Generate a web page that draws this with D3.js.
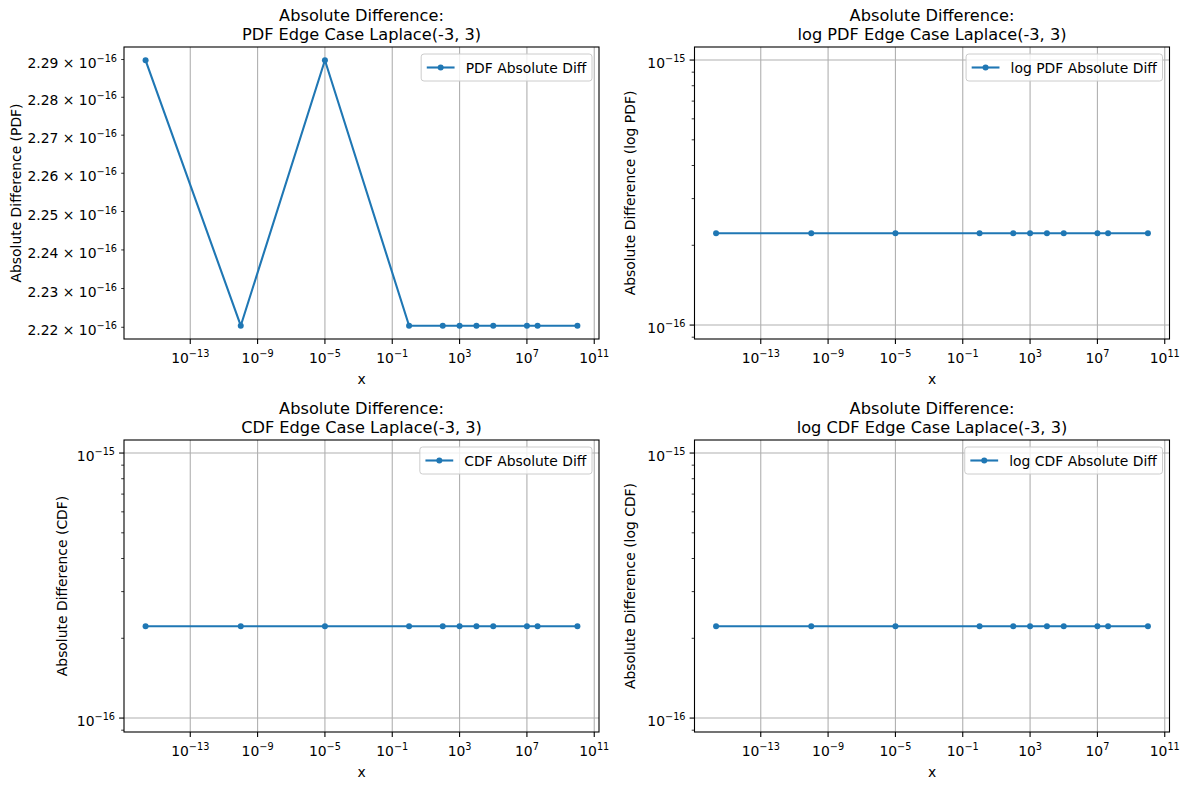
<!DOCTYPE html>
<html>
<head>
<meta charset="utf-8">
<script src="https://cdn.jsdelivr.net/npm/d3@7"></script>
<style>
  html, body { margin: 0; padding: 0; background: #ffffff; }
  svg { display: block; }
  text { font-family: "DejaVu Sans", sans-serif; fill: #000; }
</style>
</head>
<body>
<svg id="chart" width="1189" height="789"></svg>
<script>
// ---------------- data ----------------
const xValues = [2.22e-16, 1e-10, 1e-5, 1, 1e2, 1e3, 1e4, 1e5, 1e7, 4.3e7, 1e10];
const pdfDiff = [2.2898e-16, 2.2204e-16, 2.2898e-16, 2.2204e-16, 2.2204e-16, 2.2204e-16, 2.2204e-16, 2.2204e-16, 2.2204e-16, 2.2204e-16, 2.2204e-16];
const logPdfDiff = [2.2204e-16, 2.2204e-16, 2.2204e-16, 2.2204e-16, 2.2204e-16, 2.2204e-16, 2.2204e-16, 2.2204e-16, 2.2204e-16, 2.2204e-16, 2.2204e-16];
const cdfDiff = [2.2204e-16, 2.2204e-16, 2.2204e-16, 2.2204e-16, 2.2204e-16, 2.2204e-16, 2.2204e-16, 2.2204e-16, 2.2204e-16, 2.2204e-16, 2.2204e-16];
const logCdfDiff = [2.2204e-16, 2.2204e-16, 2.2204e-16, 2.2204e-16, 2.2204e-16, 2.2204e-16, 2.2204e-16, 2.2204e-16, 2.2204e-16, 2.2204e-16, 2.2204e-16];

const xTickExponents = [-13, -9, -5, -1, 3, 7, 11];
const pdfTickMantissas = ["2.22", "2.23", "2.24", "2.25", "2.26", "2.27", "2.28", "2.29"];
const pdfTickExponent = -16;
const logMajorExponents = [-15, -16];
const logMinorTicks = [9e-17, 2e-16, 3e-16, 4e-16, 5e-16, 6e-16, 7e-16, 8e-16, 9e-16];
const logYDomain = [8.86e-17, 1.12e-15];

const titles = [
  ["Absolute Difference:", "PDF Edge Case Laplace(-3, 3)"],
  ["Absolute Difference:", "log PDF Edge Case Laplace(-3, 3)"],
  ["Absolute Difference:", "CDF Edge Case Laplace(-3, 3)"],
  ["Absolute Difference:", "log CDF Edge Case Laplace(-3, 3)"]
];
const yLabels = ["Absolute Difference (PDF)", "Absolute Difference (log PDF)", "Absolute Difference (CDF)", "Absolute Difference (log CDF)"];
const legendLabels = ["PDF Absolute Diff", "log PDF Absolute Diff", "CDF Absolute Diff", "log CDF Absolute Diff"];
const seriesList = [pdfDiff, logPdfDiff, cdfDiff, logCdfDiff];

// ---------------- layout ----------------
const svg = d3.select("#chart");
const color = "#1f77b4";
const gridColor = "#b0b0b0";
const fs = 13.9;
const axW = 475, axH = 292;
const panels = [
  {left: 124, top: 47, ylabX: 21, mode: "lin"},
  {left: 694.5, top: 47, ylabX: 635, mode: "log"},
  {left: 124, top: 440, ylabX: 67, mode: "log"},
  {left: 694.5, top: 440, ylabX: 635, mode: "log"}
];

function logPadDomain(vals, frac) {
  const lo = Math.log10(d3.min(vals)), hi = Math.log10(d3.max(vals));
  const m = (hi - lo) * frac;
  return [Math.pow(10, lo - m), Math.pow(10, hi + m)];
}

function powText(sel, prefix, exp) {
  sel.text(null);
  sel.append("tspan").text(prefix);
  sel.append("tspan").attr("font-size", fs * 0.7).attr("dy", -6)
     .text(exp < 0 ? "\u2212" + Math.abs(exp) : String(exp));
}

panels.forEach((p, i) => {
  const g = svg.append("g").attr("transform", `translate(${p.left},${p.top})`);
  const data = seriesList[i];

  const x = d3.scaleLog().domain(logPadDomain(xValues, 0.05)).range([0, axW]);
  const y = d3.scaleLog()
    .domain(p.mode === "lin" ? logPadDomain(data, 0.05) : logYDomain)
    .range([axH, 0]);

  // grid
  xTickExponents.forEach(e => {
    const xx = x(Math.pow(10, e));
    g.append("line").attr("x1", xx).attr("x2", xx).attr("y1", 0).attr("y2", axH)
      .attr("stroke", gridColor).attr("stroke-width", 1.1);
  });
  if (p.mode === "log") {
    logMajorExponents.forEach(e => {
      const yy = y(Math.pow(10, e));
      g.append("line").attr("x1", 0).attr("x2", axW).attr("y1", yy).attr("y2", yy)
        .attr("stroke", gridColor).attr("stroke-width", 1.1);
    });
  }

  // x axis ticks
  xTickExponents.forEach(e => {
    const xx = x(Math.pow(10, e));
    g.append("line").attr("x1", xx).attr("x2", xx).attr("y1", axH).attr("y2", axH + 4.9)
      .attr("stroke", "#000").attr("stroke-width", 1.1);
    const t = g.append("text").attr("x", xx).attr("y", axH + 24).attr("text-anchor", "middle")
      .attr("font-size", fs);
    powText(t, "10", e);
  });
  g.append("text").attr("x", axW / 2).attr("y", axH + 44.5).attr("text-anchor", "middle")
    .attr("font-size", fs).text("x");

  // y axis ticks
  if (p.mode === "lin") {
    pdfTickMantissas.forEach(m => {
      const v = +m * Math.pow(10, pdfTickExponent);
      const yy = y(v);
      g.append("line").attr("x1", -2.8).attr("x2", 0).attr("y1", yy).attr("y2", yy)
        .attr("stroke", "#000").attr("stroke-width", 0.8);
      const t = g.append("text").attr("x", -7).attr("y", yy + 8).attr("text-anchor", "end")
        .attr("font-size", fs);
      powText(t, m + " \u00d7 10", pdfTickExponent);
    });
  } else {
    logMinorTicks.forEach(v => {
      const yy = y(v);
      g.append("line").attr("x1", -2.8).attr("x2", 0).attr("y1", yy).attr("y2", yy)
        .attr("stroke", "#000").attr("stroke-width", 0.8);
    });
    logMajorExponents.forEach(e => {
      const yy = y(Math.pow(10, e));
      g.append("line").attr("x1", -4.9).attr("x2", 0).attr("y1", yy).attr("y2", yy)
        .attr("stroke", "#000").attr("stroke-width", 1.1);
      const t = g.append("text").attr("x", -9).attr("y", yy + 8).attr("text-anchor", "end")
        .attr("font-size", fs);
      powText(t, "10", e);
    });
  }

  // y label
  svg.append("text")
    .attr("transform", `translate(${p.ylabX},${p.top + axH / 2}) rotate(-90)`)
    .attr("text-anchor", "middle").attr("font-size", fs).text(yLabels[i]);

  // title (two lines)
  titles[i].forEach((line, k) => {
    svg.append("text").attr("x", p.left + axW / 2).attr("y", p.top - 26.5 + k * 19)
      .attr("text-anchor", "middle").attr("font-size", 16.2).text(line);
  });

  // line + markers
  const pts = xValues.map((xv, j) => [xv, data[j]]);
  g.append("path").datum(pts)
    .attr("d", d3.line().x(d => x(d[0])).y(d => y(d[1])))
    .attr("fill", "none").attr("stroke", color).attr("stroke-width", 2.1)
    .attr("stroke-linejoin", "round");
  g.selectAll("circle.pt").data(pts).enter().append("circle")
    .attr("cx", d => x(d[0])).attr("cy", d => y(d[1])).attr("r", 3).attr("fill", color);

  // frame
  g.append("rect").attr("x", 0).attr("y", 0).attr("width", axW).attr("height", axH)
    .attr("fill", "none").attr("stroke", "#000").attr("stroke-width", 1.1);

  // legend
  const lg = g.append("g");
  const txt = lg.append("text").attr("font-size", fs).text(legendLabels[i]);
  const tw = txt.node().getComputedTextLength();
  const pad = 5.6, hl = 27.8, htp = 11.1;
  const lw = pad + hl + htp + tw + pad;
  const lh = 27;
  const lx = axW - 7 - lw, ly = 7;
  lg.insert("rect", "text").attr("x", lx).attr("y", ly).attr("width", lw).attr("height", lh)
    .attr("rx", 2.8).attr("fill", "rgba(255,255,255,0.8)").attr("stroke", "#cccccc").attr("stroke-width", 1);
  const cy = ly + lh / 2;
  lg.append("line").attr("x1", lx + pad).attr("x2", lx + pad + hl).attr("y1", cy).attr("y2", cy)
    .attr("stroke", color).attr("stroke-width", 2.1);
  lg.append("circle").attr("cx", lx + pad + hl / 2).attr("cy", cy).attr("r", 3).attr("fill", color);
  txt.attr("x", lx + pad + hl + htp).attr("y", cy + 5);
});
</script>
</body>
</html>
